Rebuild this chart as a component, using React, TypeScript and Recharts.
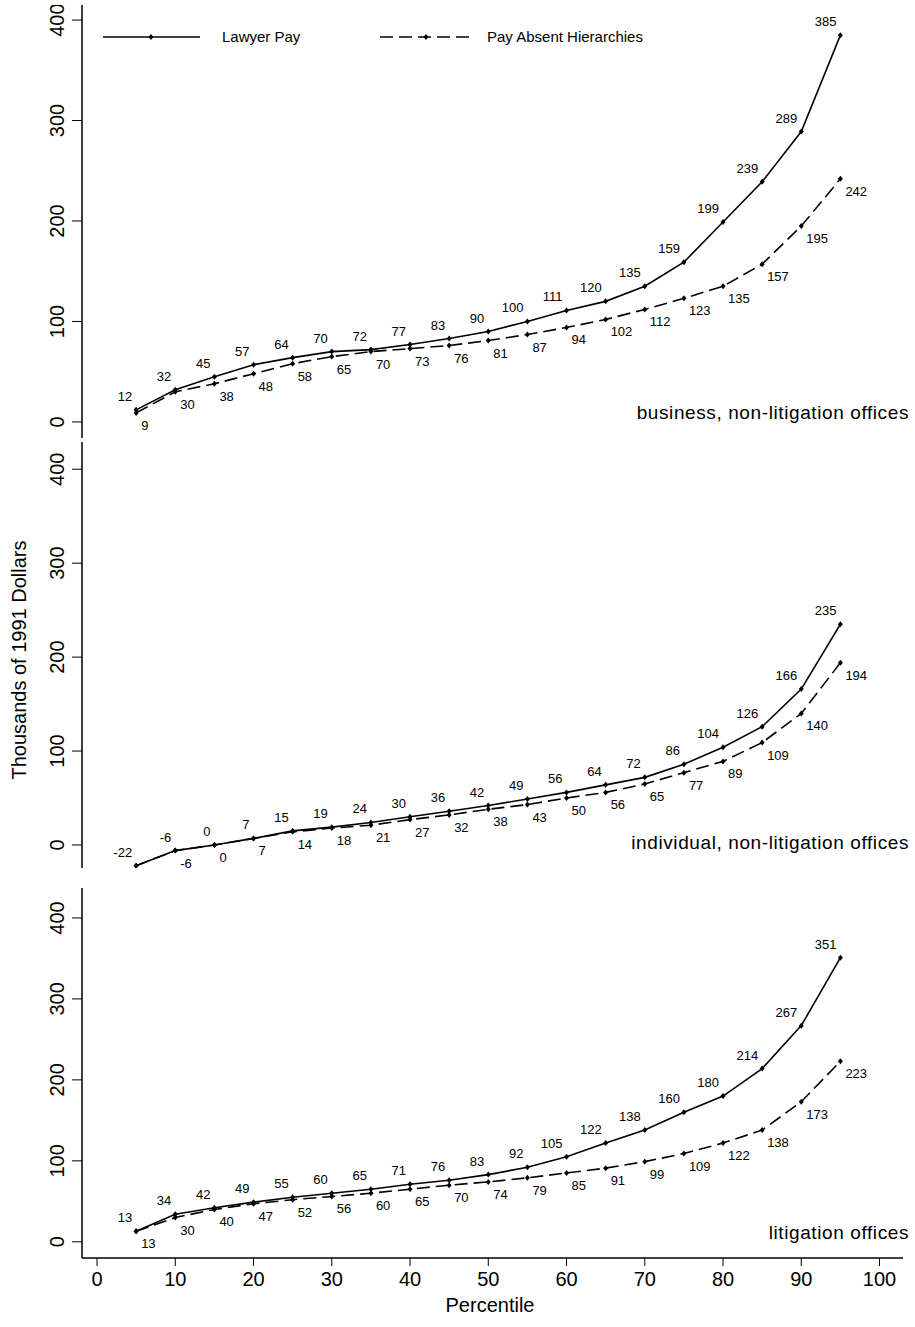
import React from "react";
import { LineChart, Line, XAxis, YAxis, LabelList } from "recharts";

const percentiles = [5,10,15,20,25,30,35,40,45,50,55,60,65,70,75,80,85,90,95];
const bizLawyer = [12,32,45,57,64,70,72,77,83,90,100,111,120,135,159,199,239,289,385];
const bizAbsent = [9,30,38,48,58,65,70,73,76,81,87,94,102,112,123,135,157,195,242];
const indLawyer = [-22,-6,0,7,15,19,24,30,36,42,49,56,64,72,86,104,126,166,235];
const indAbsent = [-22,-6,0,7,14,18,21,27,32,38,43,50,56,65,77,89,109,140,194];
const litLawyer = [13,34,42,49,55,60,65,71,76,83,92,105,122,138,160,180,214,267,351];
const litAbsent = [13,30,40,47,52,56,60,65,70,74,79,85,91,99,109,122,138,173,223];
const yTicks = [0,100,200,300,400];
const xTicks = [0,10,20,30,40,50,60,70,80,90,100];
const panelTitles = ["business, non-litigation offices","individual, non-litigation offices","litigation offices"];

const FONT = "Arial, 'Liberation Sans', sans-serif";

const Dot = (p: any) => {
  const { cx, cy } = p;
  if (cx == null || cy == null) return null;
  return <path d={`M${cx},${cy-3}L${cx+2.5},${cy}L${cx},${cy+3}L${cx-2.5},${cy}Z`} fill="#000" />;
};

const YTick = (p: any) => {
  const { x, y, payload } = p;
  return (
    <text x={x - 6} y={y} transform={`rotate(-90 ${x - 6} ${y})`} textAnchor="middle" fontSize={20} fontFamily={FONT} fill="#000">
      {payload.value}
    </text>
  );
};

const XTick = (p: any) => {
  const { x, y, payload } = p;
  return (
    <text x={x} y={y + 18} textAnchor="middle" fontSize={20} fontFamily={FONT} fill="#000">{payload.value}</text>
  );
};

const topLabel = (p: any) => (
  <text x={p.x - 4} y={p.y - 9} textAnchor="end" fontSize={13} fontFamily={FONT} fill="#000">{p.value}</text>
);
const botLabel = (p: any) => (
  <text x={p.x + 5} y={p.y + 17} textAnchor="start" fontSize={13} fontFamily={FONT} fill="#000">{p.value}</text>
);

function Panel({ lawyer, absent, top, height, domain, last, title }: any) {
  const data = percentiles.map((p, i) => ({ p, a: lawyer[i], b: absent[i] }));
  const axisH = last ? 50 : 0;
  return (
    <div style={{ position: "absolute", left: 0, top }}>
      <LineChart width={915} height={height + axisH} data={data} style={{ overflow: "visible" }} margin={{ top: 0, right: 12, left: 0, bottom: 0 }}>
        <XAxis dataKey="p" type="number" domain={[-1.92, 103]} ticks={xTicks} allowDataOverflow hide={!last}
          axisLine={{ stroke: "#000", strokeWidth: 1.5 }} tickLine={{ stroke: "#000" }} tickSize={8} tick={<XTick />} height={axisH} />
        <YAxis type="number" domain={domain} ticks={yTicks} allowDataOverflow width={82}
          axisLine={{ stroke: "#000", strokeWidth: 1.5 }} tickLine={{ stroke: "#000" }} tickSize={10} tick={<YTick />} />
        <Line dataKey="b" stroke="#000" strokeWidth={1.6} strokeDasharray="13 6" dot={<Dot />} isAnimationActive={false}>
          <LabelList dataKey="b" content={botLabel} />
        </Line>
        <Line dataKey="a" stroke="#000" strokeWidth={1.6} dot={<Dot />} isAnimationActive={false}>
          <LabelList dataKey="a" content={topLabel} />
        </Line>
      </LineChart>
      <div style={{ position: "absolute", right: 6, top: height - 36, fontFamily: FONT, fontSize: 19, letterSpacing: 0.6, whiteSpace: "nowrap" }}>{title}</div>
    </div>
  );
}

export default function App() {
  return (
    <div style={{ position: "absolute", left: 0, top: 0, width: 915, height: 1327, background: "#fff", fontFamily: FONT }}>
      <Panel lawyer={bizLawyer} absent={bizAbsent} top={5} height={433} domain={[-16, 415]} title={panelTitles[0]} />
      <Panel lawyer={indLawyer} absent={indAbsent} top={442} height={426} domain={[-24.5, 429]} title={panelTitles[1]} />
      <Panel lawyer={litLawyer} absent={litAbsent} top={888} height={370} domain={[-20, 437]} title={panelTitles[2]} last />
      <svg style={{ position: "absolute", left: 0, top: 0 }} width={915} height={60}>
        <line x1={103} y1={37} x2={200} y2={37} stroke="#000" strokeWidth={1.6} />
        <path d="M151,34L153.5,37L151,40L148.5,37Z" fill="#000" />
        <text x={222} y={42} fontSize={15} fontFamily={FONT}>Lawyer Pay</text>
        <line x1={380} y1={37} x2={472} y2={37} stroke="#000" strokeWidth={1.6} strokeDasharray="13 6" />
        <path d="M426,34L428.5,37L426,40L423.5,37Z" fill="#000" />
        <text x={487} y={42} fontSize={15} fontFamily={FONT}>Pay Absent Hierarchies</text>
      </svg>
      <div style={{ position: "absolute", left: 20, top: 660, transform: "rotate(-90deg)", width: 0, height: 0 }}>
        <div style={{ position: "absolute", left: -150, top: -12, width: 300, textAlign: "center", fontSize: 20, whiteSpace: "nowrap" }}>Thousands of 1991 Dollars</div>
      </div>
      <div style={{ position: "absolute", left: 0, width: 980, top: 1294, textAlign: "center", fontSize: 20 }}>Percentile</div>
    </div>
  );
}
